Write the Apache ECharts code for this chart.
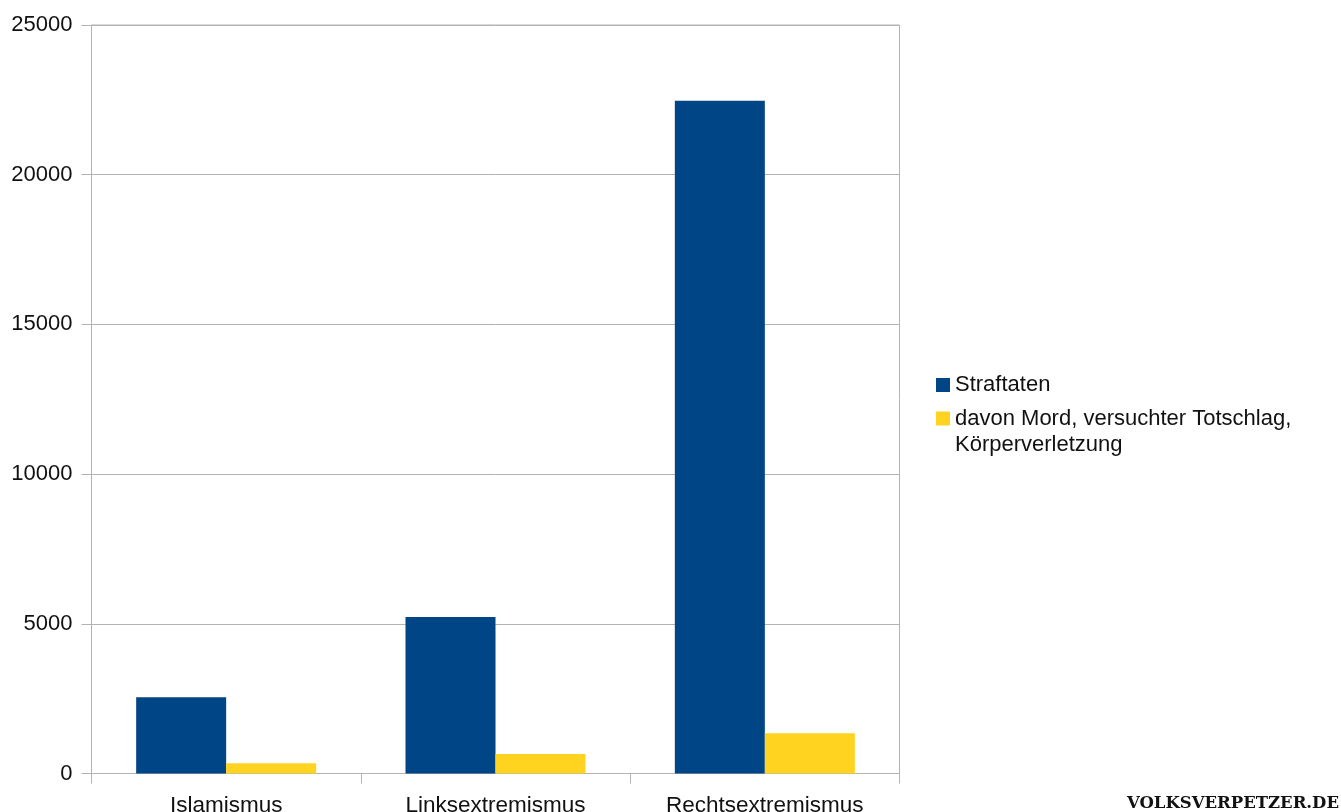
<!DOCTYPE html>
<html>
<head>
<meta charset="utf-8">
<script src="https://cdn.jsdelivr.net/npm/echarts@6/dist/echarts.min.js"></script>
<style>html,body{margin:0;padding:0;background:#fff;}#chart{width:1341px;height:812px;}</style>
</head>
<body>
<div id="chart"></div>
<script>
const categories = ['Islamismus', 'Linksextremismus', 'Rechtsextremismus'];
const seriesNames = ['Straftaten', 'davon Mord, versuchter Totschlag, Körperverletzung'];
const straftaten = [2550, 5230, 22470];
const gewalt = [345, 655, 1345];
const yTicks = [0, 5000, 10000, 15000, 20000, 25000];

const FONT = 'Liberation Sans';
const GRID = '#b3b3b3';
const chart = echarts.init(document.getElementById('chart'), null, {renderer: 'canvas'});
const legendBase = {
  orient: 'vertical', left: 936, padding: 0,
  itemWidth: 14, itemHeight: 14, icon: 'rect',
  textStyle: {fontSize: 22, color: '#111', fontFamily: FONT, lineHeight: 26},
  selectedMode: false
};
chart.setOption({
  animation: false,
  backgroundColor: '#ffffff',
  textStyle: {fontFamily: FONT},
  grid: {left: 91.5, right: 441.5, top: 25, bottom: 38.5, show: true, borderColor: GRID, borderWidth: 1,
         backgroundColor: 'transparent', containLabel: false, outerBoundsMode: 'none'},
  legend: [Object.assign({}, legendBase, {
    data: [seriesNames[0]], top: 372
  }), Object.assign({}, legendBase, {
    data: [seriesNames[1]], top: 379.5,
    formatter: function (name) {
      return '\u00a0\n' + name.replace(', Körper', ',\nKörper');
    }
  })],
  xAxis: {
    type: 'category',
    data: categories,
    axisLine: {show: true, lineStyle: {color: GRID, width: 1}},
    axisTick: {show: true, length: 10, lineStyle: {color: GRID}},
    axisLabel: {fontSize: 22.5, color: '#111', margin: 21, fontFamily: FONT},
    splitLine: {show: false}
  },
  yAxis: {
    type: 'value',
    min: yTicks[0], max: yTicks[yTicks.length - 1], interval: yTicks[1] - yTicks[0],
    axisLine: {show: true, lineStyle: {color: GRID, width: 1}},
    axisTick: {show: true, length: 10, lineStyle: {color: GRID}},
    axisLabel: {fontSize: 22, color: '#111', margin: 19, fontFamily: FONT, formatter: function (v) { return String(v); }},
    splitLine: {show: true, lineStyle: {color: GRID, width: 1}}
  },
  series: [{
    name: seriesNames[0], type: 'bar', data: straftaten,
    barWidth: 90, barGap: '0%',
    itemStyle: {color: '#004586'}
  }, {
    name: seriesNames[1], type: 'bar', data: gewalt,
    barWidth: 90, barGap: '0%',
    itemStyle: {color: '#ffd320'}
  }],
  graphic: [{
    type: 'text', right: 2, top: 795,
    style: {text: 'VOLKSVERPETZER.DE', font: 'bold 16.5px "DejaVu Serif"', fill: '#111'}
  }]
});
</script>
</body>
</html>
